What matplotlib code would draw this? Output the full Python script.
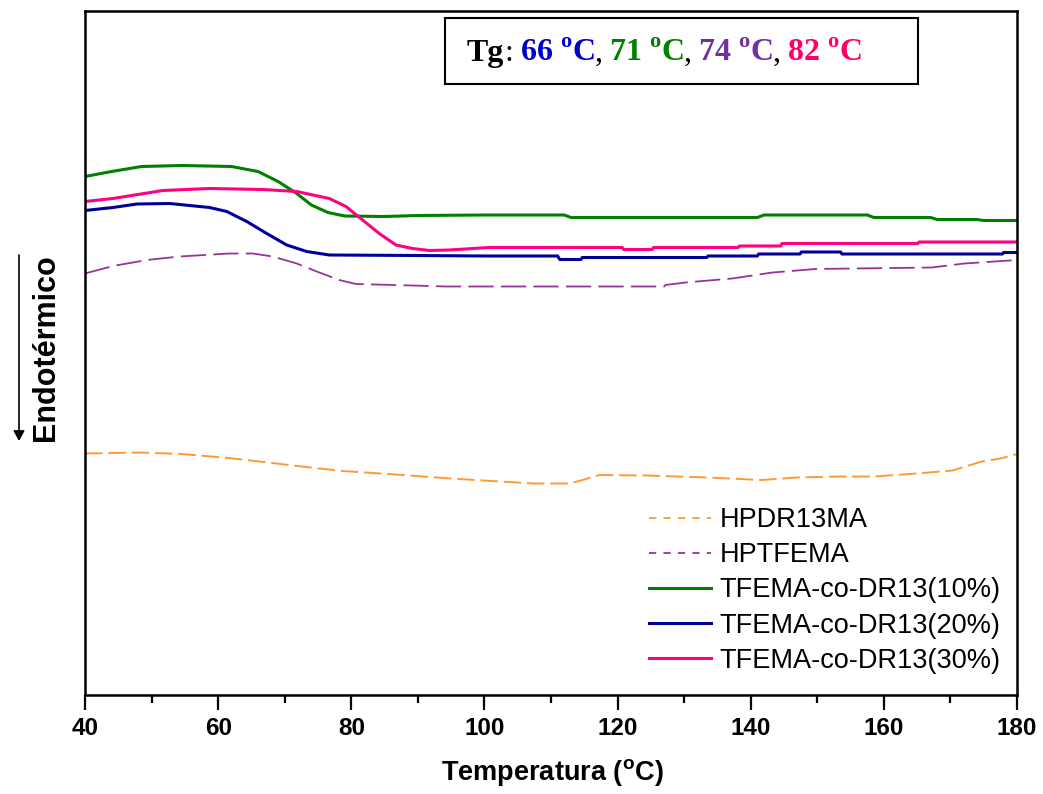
import matplotlib
matplotlib.use("Agg")
import matplotlib.pyplot as plt
from matplotlib.lines import Line2D
from matplotlib.patches import Rectangle, FancyArrowPatch

# DSC traces (heat flow, arbitrary units) versus temperature
temp_pdr13 = [40, 48.2, 54.5, 60.8, 66.2, 72.5, 78.7, 86.7, 94.9, 101.1, 107.4, 112.8,
              115, 117.3, 124.5, 133.5, 141.6, 147, 153.2, 158.6, 164.9, 170.3, 174.7,
              177.5, 180]
flow_pdr13 = [4.83, 4.85, 4.82, 4.75, 4.67, 4.57, 4.48, 4.41, 4.33, 4.28, 4.23, 4.23,
              4.31, 4.40, 4.39, 4.35, 4.30, 4.35, 4.37, 4.37, 4.43, 4.49, 4.67,
              4.73, 4.82]

temp_ptfema = [40, 44.2, 49.3, 54.2, 61.7, 65.2, 68.2, 71.8, 74.8, 78.2, 80.7, 89.2,
               94.2, 127, 127.2, 130.2, 137.2, 143.3, 149.7, 167.2, 172.1, 180]
flow_ptfema = [8.43, 8.58, 8.70, 8.77, 8.83, 8.83, 8.77, 8.63, 8.47, 8.30, 8.22, 8.19,
               8.17, 8.17, 8.20, 8.25, 8.33, 8.45, 8.52, 8.55, 8.63, 8.70]

temp_co10 = [40, 44, 48.5, 54.5, 62, 66, 69, 71.7, 74, 76.5, 79, 85, 90, 100, 112, 113,
             141, 142, 157.5, 158.5, 167, 168, 174, 175, 180]
flow_co10 = [10.37, 10.47, 10.57, 10.59, 10.57, 10.47, 10.27, 10.04, 9.80, 9.65, 9.58,
             9.57, 9.59, 9.60, 9.60, 9.55, 9.55, 9.60, 9.60, 9.55, 9.55, 9.51, 9.51,
             9.49, 9.49]

temp_co20 = [40, 44.2, 47.8, 52.7, 58.7, 61.3, 64.3, 67.3, 70.3, 73.3, 76.7, 90, 100,
             111, 111.3, 114.5, 114.7, 133.4, 133.6, 141, 141.2, 147.4, 147.6, 153.5,
             153.7, 177.8, 178, 180]
flow_co20 = [9.69, 9.75, 9.82, 9.83, 9.75, 9.67, 9.47, 9.23, 9.00, 8.87, 8.80, 8.79,
             8.78, 8.78, 8.71, 8.71, 8.75, 8.75, 8.78, 8.78, 8.82, 8.82, 8.86, 8.86,
             8.82, 8.82, 8.85, 8.85]

temp_co30 = [40, 44.2, 51.7, 58.7, 66.7, 71.8, 76.7, 79.2, 81.7, 84.2, 86.7, 89.2, 91.7,
             94.7, 100.7, 120.7, 120.9, 125.2, 125.4, 138.1, 138.3, 144.5, 144.7,
             165.1, 165.3, 180]
flow_co30 = [9.87, 9.93, 10.09, 10.13, 10.11, 10.07, 9.93, 9.77, 9.50, 9.23, 9.00, 8.93,
             8.89, 8.90, 8.95, 8.95, 8.91, 8.91, 8.95, 8.95, 8.98, 8.98, 9.03, 9.03,
             9.06, 9.06]

labels = ["HPDR13MA", "HPTFEMA", "TFEMA-co-DR13(10%)", "TFEMA-co-DR13(20%)",
          "TFEMA-co-DR13(30%)"]
x_ticks = [40, 60, 80, 100, 120, 140, 160, 180]
tg_values = ["66", "71", "74", "82"]

c_orange = "#ff9933"
c_purple = "#993399"
c_green = "#008000"
c_blue = "#000099"
c_pink = "#ff0080"
tg_colors = ["#0000cc", "#008000", "#7030a0", "#ff0066"]

plt.rcParams["font.family"] = ["Liberation Sans", "DejaVu Sans"]
plt.rcParams["mathtext.fontset"] = "custom"
plt.rcParams["mathtext.bf"] = "Liberation Serif:bold"
plt.rcParams["mathtext.sf"] = "Liberation Sans:bold"
plt.rcParams["mathtext.rm"] = "Liberation Sans"

W, H = 1043, 794
fig = plt.figure(figsize=(W / 100, H / 100), dpi=100)


def fx(px):
    return px / W


def fy(py):
    return 1 - py / H


ax = fig.add_axes([fx(85), fy(695), fx(1017) - fx(85), fy(11) - fy(695)])

ax.plot(temp_pdr13, flow_pdr13, color=c_orange, lw=1.4, dashes=(9, 3))
ax.plot(temp_ptfema, flow_ptfema, color=c_purple, lw=1.3, dashes=(14, 4))
ax.plot(temp_co10, flow_co10, color=c_green, lw=2.2)
ax.plot(temp_co20, flow_co20, color=c_blue, lw=2.2)
ax.plot(temp_co30, flow_co30, color=c_pink, lw=2.2)

ax.set_xlim(40, 180)
ax.set_ylim(0, 13.68)
ax.set_yticks([])
ax.set_xticks(x_ticks)
ax.set_xticks(range(50, 180, 20), minor=True)
ax.tick_params(axis="x", which="major", direction="out", length=11, width=1.6,
               pad=5, labelsize=17.5)
ax.tick_params(axis="x", which="minor", direction="out", length=6, width=1.6)
for lab in ax.get_xticklabels():
    lab.set_fontweight("bold")
for sp in ax.spines.values():
    sp.set_linewidth(1.8)

fig.text(fx(552), fy(772), "Temperatura ($^{\\mathsf{o}}$C)", ha="center", va="center",
         fontsize=19.5, fontweight="bold")

# vertical axis caption with downward arrow
fig.text(fx(46), fy(348), "Endotérmico", rotation=90, ha="center", va="center",
         fontsize=22, fontweight="bold")
fig.add_artist(FancyArrowPatch(
    (fx(19), fy(255)), (fx(19), fy(441)), transform=fig.transFigure,
    arrowstyle="-|>,head_length=4,head_width=2.2", lw=1.2, color="black",
    mutation_scale=1.5, shrinkA=0, shrinkB=0))

# legend with short-dash proxies
handles = [
    Line2D([], [], color=c_orange, lw=1.3, dashes=(4, 4)),
    Line2D([], [], color=c_purple, lw=1.3, dashes=(4, 4)),
    Line2D([], [], color=c_green, lw=2.2),
    Line2D([], [], color=c_blue, lw=2.2),
    Line2D([], [], color=c_pink, lw=2.2),
]
fig.legend(handles, labels, loc="upper left", bbox_to_anchor=(fx(649), fy(507)),
           frameon=False, fontsize=19.5, handlelength=2.3, handletextpad=0.3,
           labelspacing=0.34, borderpad=0, borderaxespad=0)

# glass-transition box
fig.add_artist(Rectangle((fx(445), fy(84)), fx(918) - fx(445), fy(18) - fy(84),
                         transform=fig.transFigure, fill=False, lw=1.5,
                         edgecolor="black"))

pieces = [("Tg", "black", "bold", 0), (":", "black", "normal", 7)]
for i, (v, c) in enumerate(zip(tg_values, tg_colors)):
    pieces.append((v + " $^{\\mathbf{o}}$C", c, "bold", 0))
    if i < len(tg_values) - 1:
        pieces.append((",", "black", "normal", 6))

renderer = fig.canvas.get_renderer()
x_px = 467
for s, c, w, gap in pieces:
    t = fig.text(fx(x_px), fy(61), s, ha="left", va="baseline", color=c,
                 fontweight=w, fontsize=23, family=["Liberation Serif", "DejaVu Serif"])
    bb = t.get_window_extent(renderer)
    x_px = bb.x1 + gap

fig.savefig("out.png", dpi=100)
